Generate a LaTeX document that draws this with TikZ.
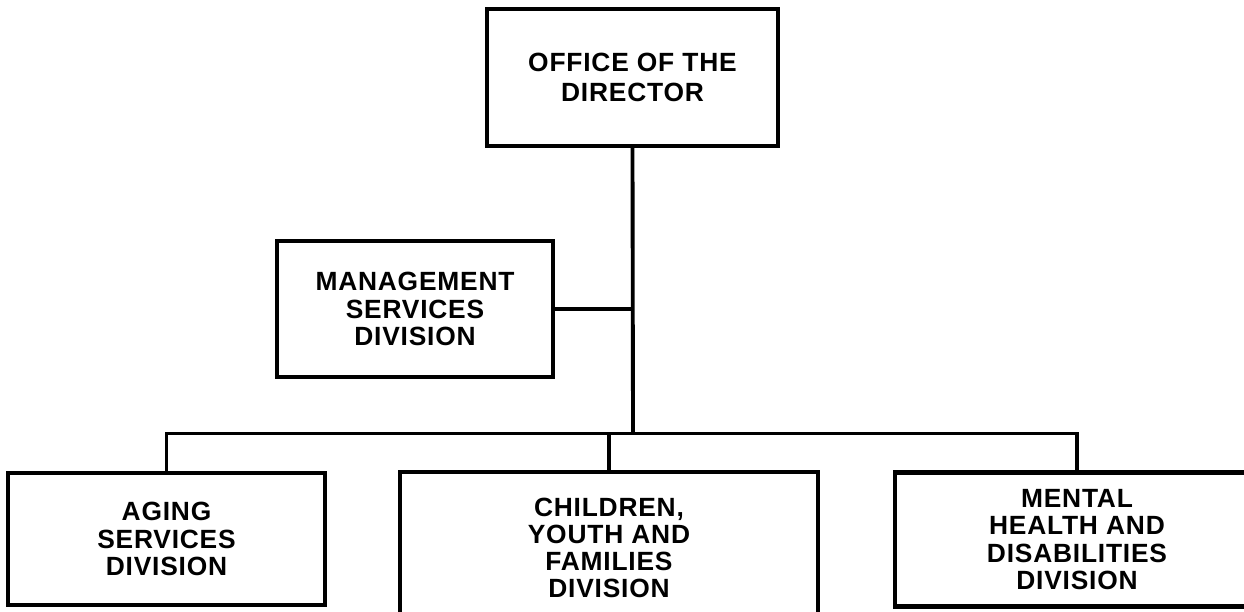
\documentclass[tikz,border=0pt]{standalone}
\usepackage{fontspec}
\setmainfont{Liberation Sans}[LetterSpace=3]
\begin{document}
\begin{tikzpicture}[
    unitbox/.style={draw, line width=2.3pt, align=center, inner sep=0pt,
      font=\bfseries\fontsize{15}{15.5}\selectfont},
    link/.style={line width=2.2pt}
  ]
  \useasboundingbox (0,0) rectangle (24.88,12.24);

        \node[unitbox, minimum width=5.82cm, minimum height=2.74cm, font=\bfseries\fontsize{15}{17}\selectfont] (director) at (12.65, 10.69) {OFFICE OF THE\\DIRECTOR};
        \node[unitbox, minimum width=5.52cm, minimum height=2.72cm] (mgmt) at (8.30, 6.06) {MANAGEMENT\\SERVICES\\DIVISION};

        \node[unitbox, minimum width=6.34cm, minimum height=2.64cm] (aging) at (3.33, 1.46) {AGING\\SERVICES\\DIVISION};
        \node[unitbox, minimum width=8.36cm, minimum height=3.04cm] (children) at (12.18, 1.28) {CHILDREN,\\YOUTH AND\\FAMILIES\\DIVISION};
        \node[unitbox, minimum width=7.28cm, minimum height=2.68cm] (mental) at (21.54, 1.45) {MENTAL\\HEALTH AND\\DISABILITIES\\DIVISION};

        \coordinate (bus) at (12.66, 3.57);

        \draw[link] (director.south) -- (bus);
        \draw[link] (mgmt.east) -- (mgmt.east -| bus);
        \draw[link] (aging.north) |- (bus) -| (mental.north);
        \draw[link] (children.north) -- (children.north |- bus);

\end{tikzpicture}
\end{document}
